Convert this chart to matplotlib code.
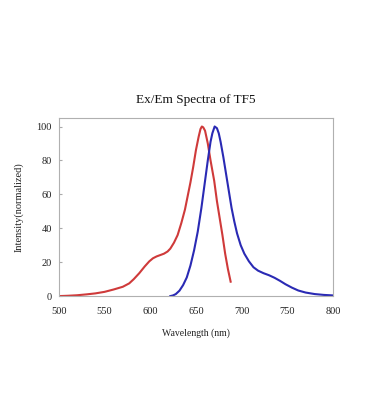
import matplotlib.pyplot as plt

# excitation (red)
ex_wl = [500, 510, 520, 530, 540, 550, 555, 560, 570, 577, 582, 588, 594, 599, 603, 607,
         611, 615, 619, 622, 626, 630, 634, 638, 641, 644, 647, 650, 653, 655, 656.5, 658,
         660, 663, 666, 670, 673, 676, 679, 682, 685, 688]
ex_val = [0, 0.2, 0.5, 1.0, 1.6, 2.5, 3.2, 3.9, 5.5, 7.5, 10, 13.5, 17.5, 20.5, 22.3, 23.4,
          24.2, 25, 26.3, 28, 31.5, 36, 43, 51, 59, 67, 76, 86, 94, 98.5, 100, 99.5,
          97.5, 90, 80, 68, 56, 46, 36, 25, 16, 8.5]

# emission (blue)
em_wl = [622, 625, 628, 632, 636, 640, 644, 648, 652, 656, 660, 663, 666, 668, 670.5, 673,
         675, 677, 680, 683, 686, 689, 692, 695, 699, 703, 708, 713, 718, 724, 730, 736,
         742, 748, 755, 762, 770, 780, 790, 800]
em_val = [0, 0.4, 1.2, 3.2, 6.5, 11, 18, 27, 38, 52, 68, 80, 91, 96, 100, 99,
          96, 91, 82, 72, 62, 52, 44, 37, 30, 25, 20.5, 17, 15, 13.5, 12.3, 10.8,
          9, 7, 5, 3.3, 2.1, 1.2, 0.7, 0.4]

plt.rcParams['font.family'] = ['Liberation Serif', 'DejaVu Serif']

fig = plt.figure(figsize=(3.7, 4.2), dpi=100)
ax = fig.add_axes([0.159, 0.295, 0.741, 0.424])

ax.plot(ex_wl, ex_val, color='#cf3a3a', lw=1.5)
ax.plot(em_wl, em_val, color='#2a2ab4', lw=1.5)

ax.set_xlim(500, 800)
ax.set_ylim(0, 105)
ax.set_xticks([500, 550, 600, 650, 700, 750, 800])
ax.set_yticks([0, 20, 40, 60, 80, 100])
ax.tick_params(axis='both', labelsize=7.5, colors='#333333', labelcolor='#222222')
ax.tick_params(axis='y', direction='in', length=2, color='#aaaaaa', pad=5)
ax.tick_params(axis='x', length=0, pad=8)
for s in ax.spines.values():
    s.set_color('#b0b0b0')
    s.set_linewidth(0.8)

ax.set_title('Ex/Em Spectra of TF5', fontsize=9.5, pad=11, color='#111111')
ax.set_xlabel('Wavelength (nm)', fontsize=7, labelpad=9, color='#222222')
ax.set_ylabel('Intensity(normalized)', fontsize=7.5, labelpad=9, color='#222222')

fig.savefig('out.png', dpi=100)
